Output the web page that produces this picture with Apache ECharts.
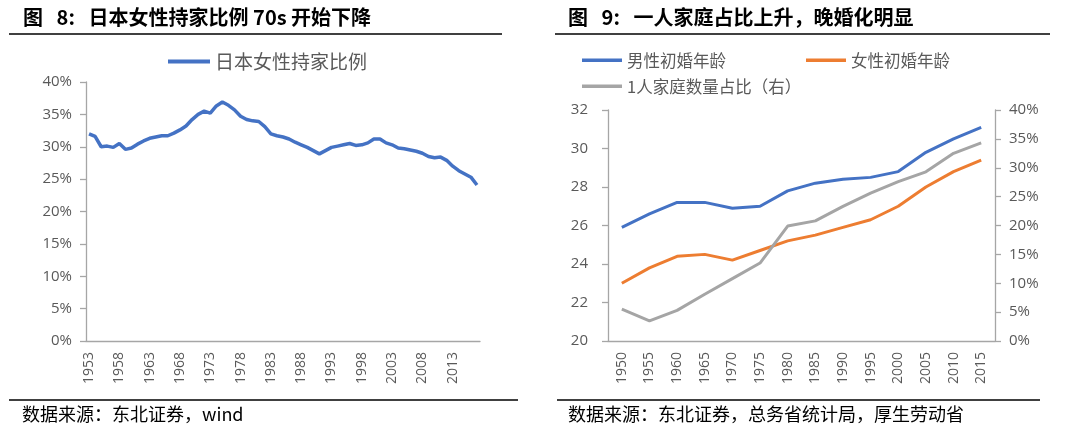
<!DOCTYPE html>
<html>
<head>
<meta charset="utf-8">
<script src="https://cdn.jsdelivr.net/npm/echarts@6/dist/echarts.min.js"></script>
<style>
html,body{margin:0;padding:0;background:#fff;}
#c{width:1080px;height:436px;}
</style>
</head>
<body>
<div id="c"></div>
<script>
// ---- Left chart data ----
var leftYears = ['1953','1954','1955','1956','1957','1958','1959','1960','1961','1962','1963','1964','1965','1966','1967','1968','1969','1970','1971','1972','1973','1974','1975','1976','1977','1978','1979','1980','1981','1982','1983','1984','1985','1986','1987','1988','1989','1990','1991','1992','1993','1994','1995','1996','1997','1998','1999','2000','2001','2002','2003','2004','2005','2006','2007','2008','2009','2010','2011','2012','2013','2014','2015','2016','2017'];
var homeOwnRatio = [32.0,31.6,30.0,30.1,29.9,30.5,29.6,29.8,30.4,30.9,31.3,31.5,31.7,31.7,32.1,32.6,33.2,34.2,35.0,35.5,35.2,36.3,36.9,36.4,35.7,34.7,34.2,34.0,33.9,33.1,32.0,31.7,31.5,31.2,30.7,30.3,29.9,29.4,28.9,29.4,29.9,30.1,30.3,30.5,30.2,30.3,30.6,31.2,31.2,30.6,30.3,29.8,29.7,29.5,29.3,29.0,28.5,28.3,28.4,27.9,27.0,26.3,25.8,25.3,24.1];

// ---- Right chart data ----
var rightYears = ['1950','1955','1960','1965','1970','1975','1980','1985','1990','1995','2000','2005','2010','2015'];
var maleMarriageAge = [25.9,26.6,27.2,27.2,26.9,27.0,27.8,28.2,28.4,28.5,28.8,29.8,30.5,31.1];
var femaleMarriageAge = [23.0,23.8,24.4,24.5,24.2,24.7,25.2,25.5,25.9,26.3,27.0,28.0,28.8,29.4];
var singleHouseholdPct = [5.5,3.5,5.3,8.1,10.8,13.5,19.9,20.8,23.3,25.6,27.6,29.3,32.5,34.3];

var titleLeft = '图   8:   日本女性持家比例 70s 开始下降';
var titleRight = '图   9:   一人家庭占比上升，晚婚化明显';
var sourceLeft = '数据来源：东北证券，wind';
var sourceRight = '数据来源：东北证券，总务省统计局，厚生劳动省';

var CJK = '"Noto Sans CJK SC", sans-serif';
var NUM = '"Open Sans", sans-serif';
var AX = '#A6A6A6';
var LBL = '#595959';

var chart = echarts.init(document.getElementById('c'), null, {renderer:'canvas'});

function yAxisBase(extra){
  var o = {
    type:'value',
    axisLine:{show:true, lineStyle:{color:AX, width:1.3}},
    axisTick:{show:true, length:6, lineStyle:{color:AX, width:1.3}},
    splitLine:{show:false},
    axisLabel:{color:LBL, fontSize:15, fontFamily:NUM}
  };
  for (var k in extra) o[k] = extra[k];
  return o;
}

var option = {
  backgroundColor:'#fff',
  animation:false,
  title:[
    {text:titleLeft, left:23, top:7, padding:0, textStyle:{fontSize:20, fontWeight:'bold', fontFamily:CJK, color:'#000'}},
    {text:titleRight, left:568, top:7, padding:0, textStyle:{fontSize:20, fontWeight:'bold', fontFamily:CJK, color:'#000'}},
    {text:sourceLeft, left:22, top:405, padding:0, textStyle:{fontSize:18, fontWeight:'normal', fontFamily:CJK, color:'#000'}},
    {text:sourceRight, left:568, top:405, padding:0, textStyle:{fontSize:18, fontWeight:'normal', fontFamily:CJK, color:'#000'}}
  ],
  graphic:[
    {type:'line', shape:{x1:9,y1:34,x2:502,y2:34}, style:{stroke:'#000', lineWidth:1.6}},
    {type:'line', shape:{x1:555,y1:34,x2:1050,y2:34}, style:{stroke:'#000', lineWidth:1.6}},
    {type:'line', shape:{x1:9,y1:400,x2:518,y2:400}, style:{stroke:'#000', lineWidth:1.6}},
    {type:'line', shape:{x1:557,y1:400,x2:1040,y2:400}, style:{stroke:'#000', lineWidth:1.6}}
  ],
  legend:[
    {data:['日本女性持家比例'], left:168, top:52, padding:0, icon:'rect', itemWidth:42, itemHeight:4, itemGap:10,
     textStyle:{color:LBL, fontSize:19, fontFamily:CJK}},
    {data:['男性初婚年龄','女性初婚年龄'], left:582, top:52, padding:0, icon:'rect', itemWidth:40, itemHeight:3.5, itemGap:80,
     textStyle:{color:LBL, fontSize:16.5, fontFamily:CJK}},
    {data:['1人家庭数量占比（右）'], left:582, top:78, padding:0, icon:'rect', itemWidth:40, itemHeight:3.5,
     textStyle:{color:LBL, fontSize:16.5, fontFamily:CJK}}
  ],
  grid:[
    {left:86, top:82, width:394, height:259, containLabel:false},
    {left:608, top:110, width:387, height:231, containLabel:false}
  ],
  xAxis:[
    {type:'category', gridIndex:0, data:leftYears, boundaryGap:true,
     axisLine:{show:true, lineStyle:{color:AX, width:1.3}}, axisTick:{show:false},
     axisLabel:{interval:4, rotate:90, color:LBL, fontSize:14, fontFamily:NUM, margin:11}},
    {type:'category', gridIndex:1, data:rightYears, boundaryGap:true,
     axisLine:{show:true, lineStyle:{color:AX, width:1.3}}, axisTick:{show:false},
     axisLabel:{interval:0, rotate:90, color:LBL, fontSize:14, fontFamily:NUM, margin:11}}
  ],
  yAxis:[
    yAxisBase({gridIndex:0, min:0, max:40, interval:5, axisLabel:{color:LBL, fontSize:15, fontFamily:NUM, margin:14, formatter:'{value}%'}}),
    yAxisBase({gridIndex:1, min:20, max:32, interval:2, axisLabel:{color:LBL, fontSize:15, fontFamily:NUM, margin:20}}),
    yAxisBase({gridIndex:1, position:'right', min:0, max:40, interval:5, axisLabel:{color:LBL, fontSize:15, fontFamily:NUM, margin:14, formatter:'{value}%'}})
  ],
  series:[
    {name:'日本女性持家比例', type:'line', xAxisIndex:0, yAxisIndex:0, data:homeOwnRatio, showSymbol:false,
     lineStyle:{color:'#4472C4', width:3.5}, itemStyle:{color:'#4472C4'}},
    {name:'男性初婚年龄', type:'line', xAxisIndex:1, yAxisIndex:1, data:maleMarriageAge, showSymbol:false,
     lineStyle:{color:'#4472C4', width:3}, itemStyle:{color:'#4472C4'}},
    {name:'女性初婚年龄', type:'line', xAxisIndex:1, yAxisIndex:1, data:femaleMarriageAge, showSymbol:false,
     lineStyle:{color:'#ED7D31', width:3}, itemStyle:{color:'#ED7D31'}},
    {name:'1人家庭数量占比（右）', type:'line', xAxisIndex:1, yAxisIndex:2, data:singleHouseholdPct, showSymbol:false,
     lineStyle:{color:'#A5A5A5', width:3}, itemStyle:{color:'#A5A5A5'}}
  ]
};
chart.setOption(option);
</script>
</body>
</html>
